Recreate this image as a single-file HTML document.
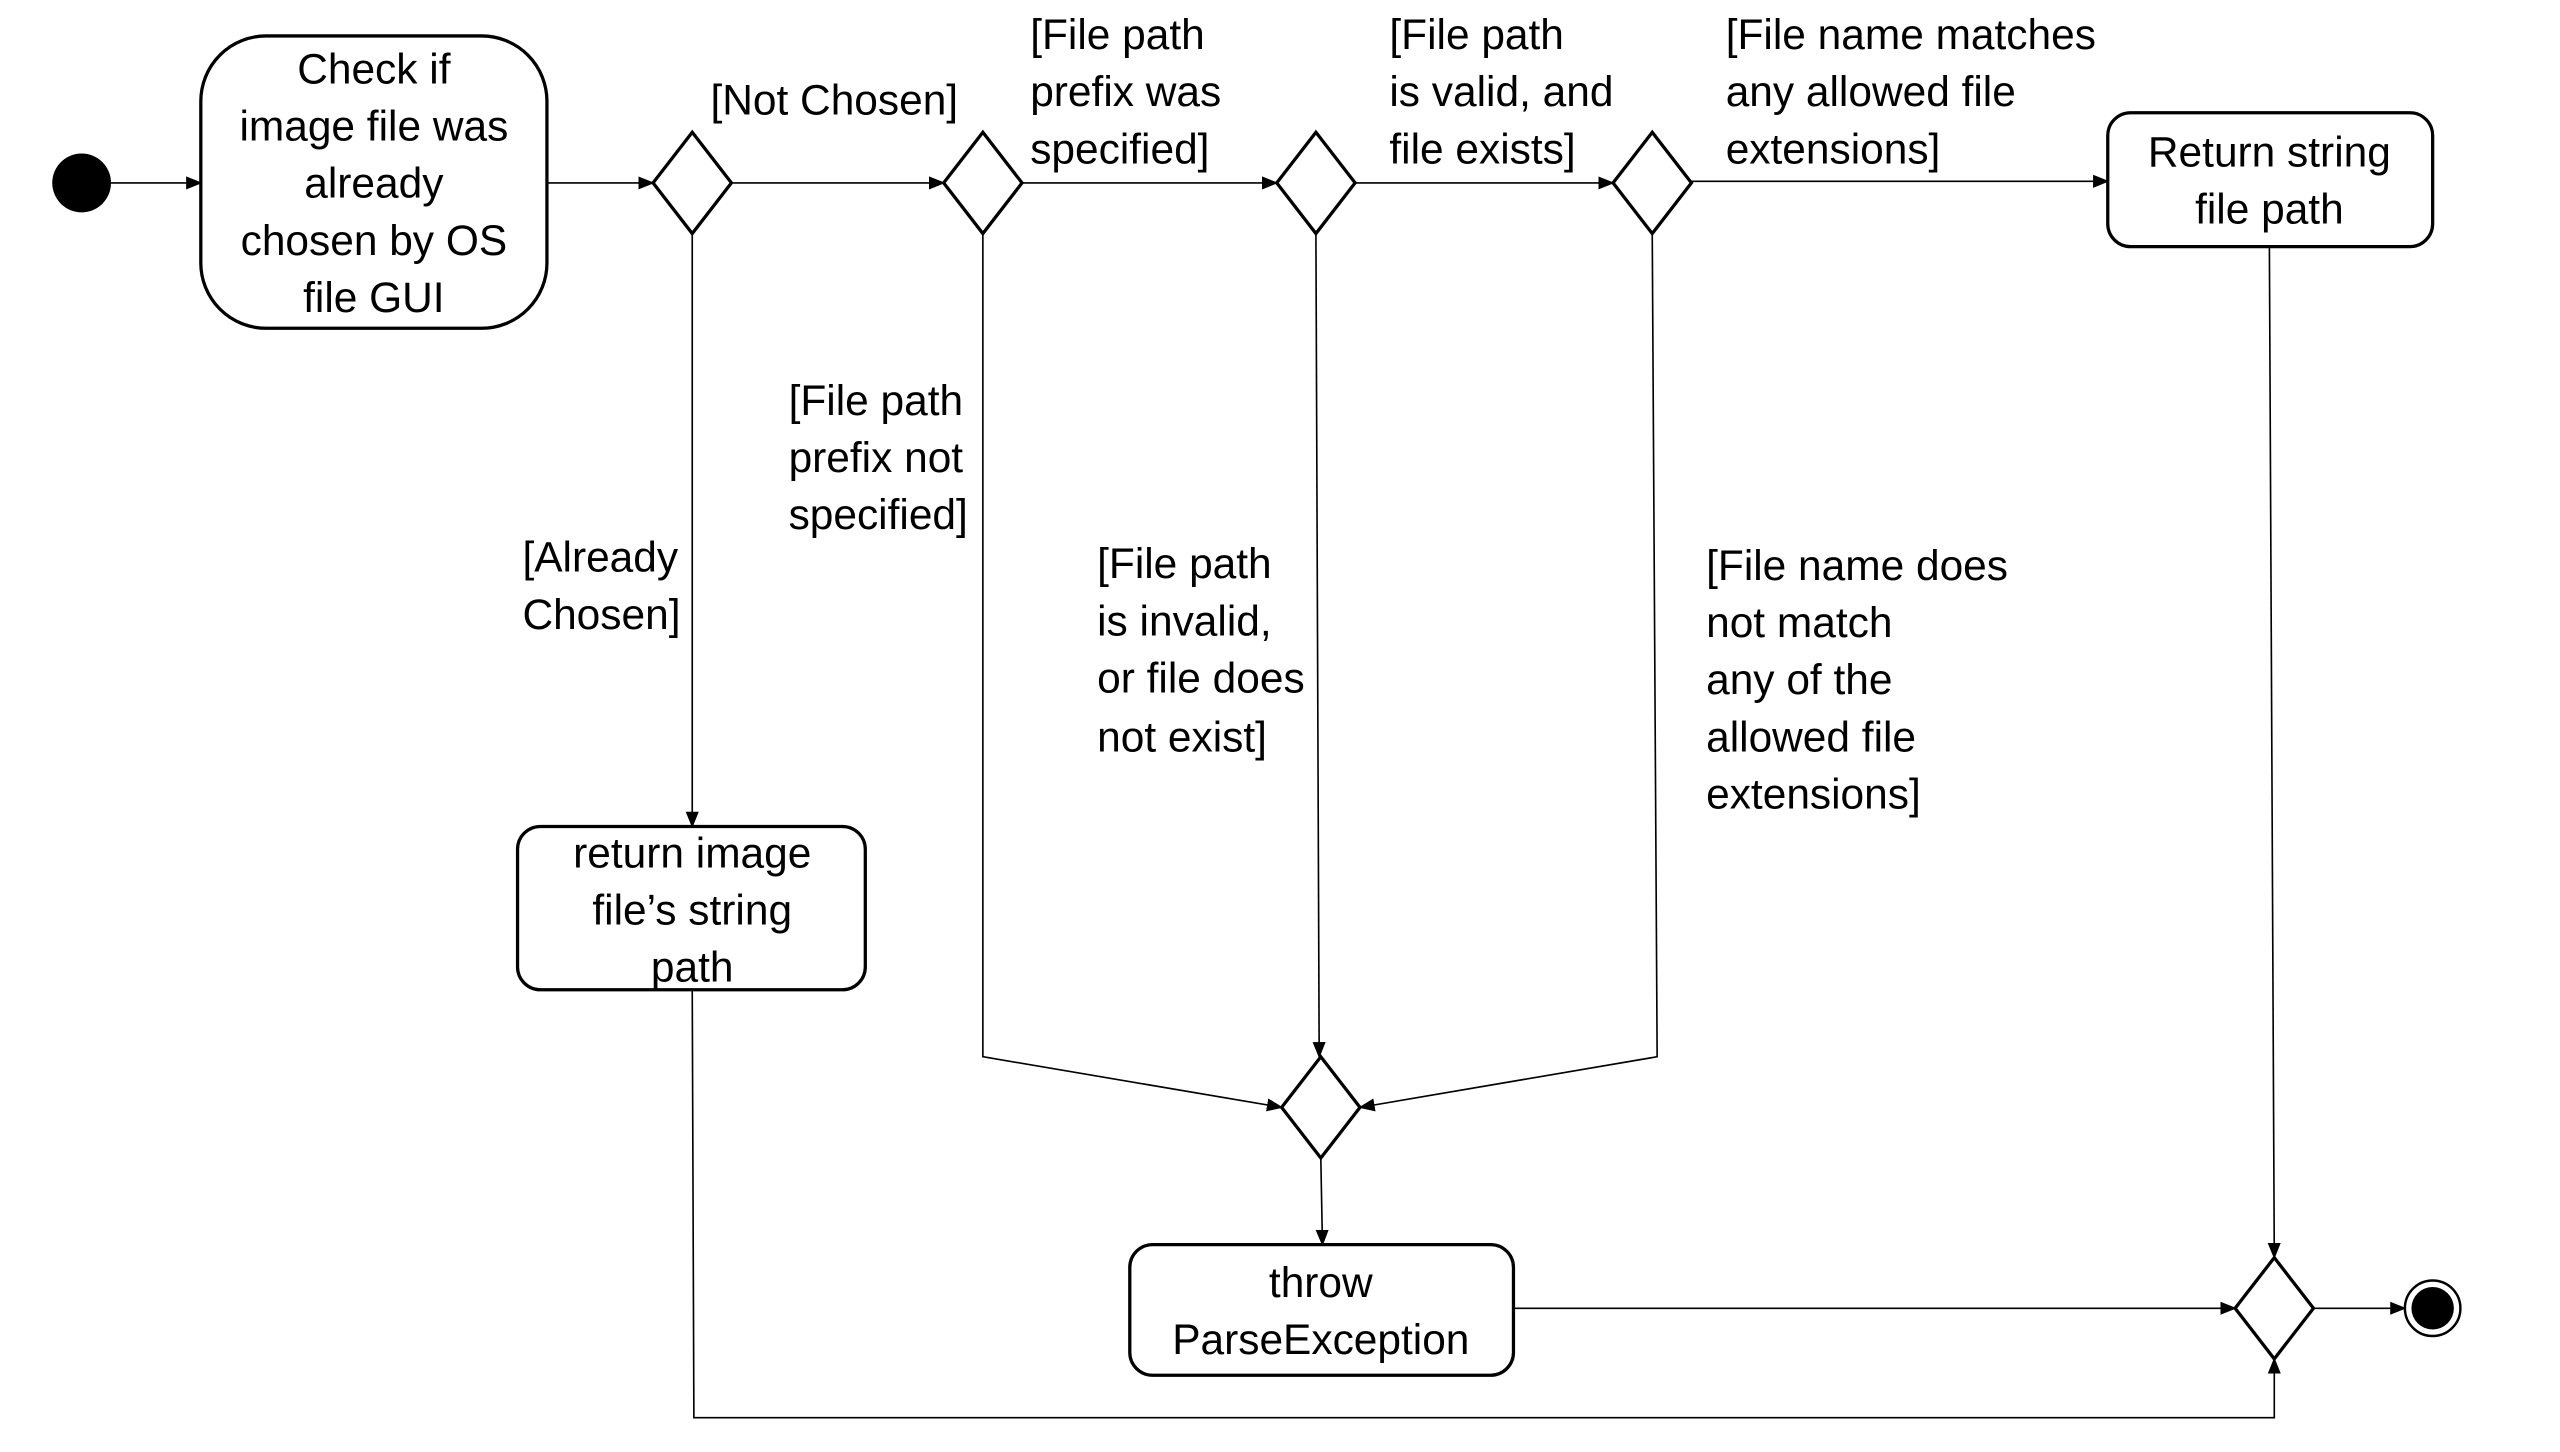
<!DOCTYPE html>
<html><head><meta charset="utf-8"><style>
html,body{margin:0;padding:0;background:#fff;}
svg{display:block;}
text{font-family:"Liberation Sans",sans-serif;font-size:26px;fill:#000;}
</style></head><body>
<svg width="2560" height="1452" viewBox="0 0 1568 889" preserveAspectRatio="none" xmlns="http://www.w3.org/2000/svg">
<defs>
<marker id="a" markerWidth="10" markerHeight="10" refX="9" refY="5" orient="auto" markerUnits="userSpaceOnUse">
<path d="M0,1 L10,5 L0,9 Z" fill="#000"/></marker>
</defs>
<g fill="none" stroke="#000" stroke-width="1">
<line x1="68" y1="112" x2="123" y2="112" marker-end="url(#a)"/>
<line x1="335" y1="112" x2="400" y2="112" marker-end="url(#a)"/>
<line x1="448" y1="112" x2="578" y2="112" marker-end="url(#a)"/>
<line x1="626" y1="112" x2="782" y2="112" marker-end="url(#a)"/>
<line x1="830" y1="112" x2="988" y2="112" marker-end="url(#a)"/>
<line x1="1036" y1="111" x2="1291" y2="111" marker-end="url(#a)"/>
<line x1="424" y1="143" x2="424" y2="506" marker-end="url(#a)"/>
<polyline points="602,143 602,647 785,678" marker-end="url(#a)"/>
<line x1="806" y1="143" x2="808" y2="647" marker-end="url(#a)"/>
<polyline points="1012,143 1015,647 833,678" marker-end="url(#a)"/>
<line x1="809" y1="709" x2="810" y2="762" marker-end="url(#a)"/>
<line x1="927" y1="801" x2="1369" y2="801" marker-end="url(#a)"/>
<line x1="1390" y1="151" x2="1393" y2="770" marker-end="url(#a)"/>
<polyline points="424,606 425,868 1393,868 1393,832" marker-end="url(#a)"/>
<line x1="1417" y1="801" x2="1473" y2="801" marker-end="url(#a)"/>
</g>
<g fill="#fff" stroke="#000" stroke-width="2">
<rect x="123" y="22" width="212" height="179" rx="40"/>
<rect x="1291" y="69" width="199" height="82" rx="14"/>
<rect x="317" y="506" width="213" height="100" rx="14"/>
<rect x="692" y="762" width="235" height="80" rx="14"/>
<polygon points="424,81 448,112 424,143 400,112"/>
<polygon points="602,81 626,112 602,143 578,112"/>
<polygon points="806,81 830,112 806,143 782,112"/>
<polygon points="1012,81 1036,112 1012,143 988,112"/>
<polygon points="809,647 833,678 809,709 785,678"/>
<polygon points="1393,770 1417,801 1393,832 1369,801"/>
</g>
<circle cx="50" cy="112" r="18" fill="#000"/>
<circle cx="1490" cy="801" r="17" fill="#fff" stroke="#000" stroke-width="1.5"/>
<circle cx="1490" cy="801" r="13" fill="#000"/>
<g text-anchor="middle">
<text x="229" y="51">Check if</text>
<text x="229" y="86">image file was</text>
<text x="229" y="121">already</text>
<text x="229" y="156">chosen by OS</text>
<text x="229" y="191">file GUI</text>
<text x="1390" y="102">Return string</text>
<text x="1390" y="137">file path</text>
<text x="424" y="531">return image</text>
<text x="424" y="566">file’s string</text>
<text x="424" y="601">path</text>
<text x="809" y="794">throw</text>
<text x="809" y="829">ParseException</text>
<text x="511" y="70">[Not Chosen]</text>
</g>
<text x="631" y="30">[File path</text>
<text x="631" y="65">prefix was</text>
<text x="631" y="100">specified]</text>
<text x="851" y="30">[File path</text>
<text x="851" y="65">is valid, and</text>
<text x="851" y="100">file exists]</text>
<text x="1057" y="30">[File name matches</text>
<text x="1057" y="65">any allowed file</text>
<text x="1057" y="100">extensions]</text>
<text x="483" y="254">[File path</text>
<text x="483" y="289">prefix not</text>
<text x="483" y="324">specified]</text>
<text x="320" y="350">[Already</text>
<text x="320" y="385">Chosen]</text>
<text x="672" y="354">[File path</text>
<text x="672" y="389">is invalid,</text>
<text x="672" y="424">or file does</text>
<text x="672" y="460">not exist]</text>
<text x="1045" y="355">[File name does</text>
<text x="1045" y="390">not match</text>
<text x="1045" y="425">any of the</text>
<text x="1045" y="460">allowed file</text>
<text x="1045" y="495">extensions]</text>
</svg>
</body></html>
